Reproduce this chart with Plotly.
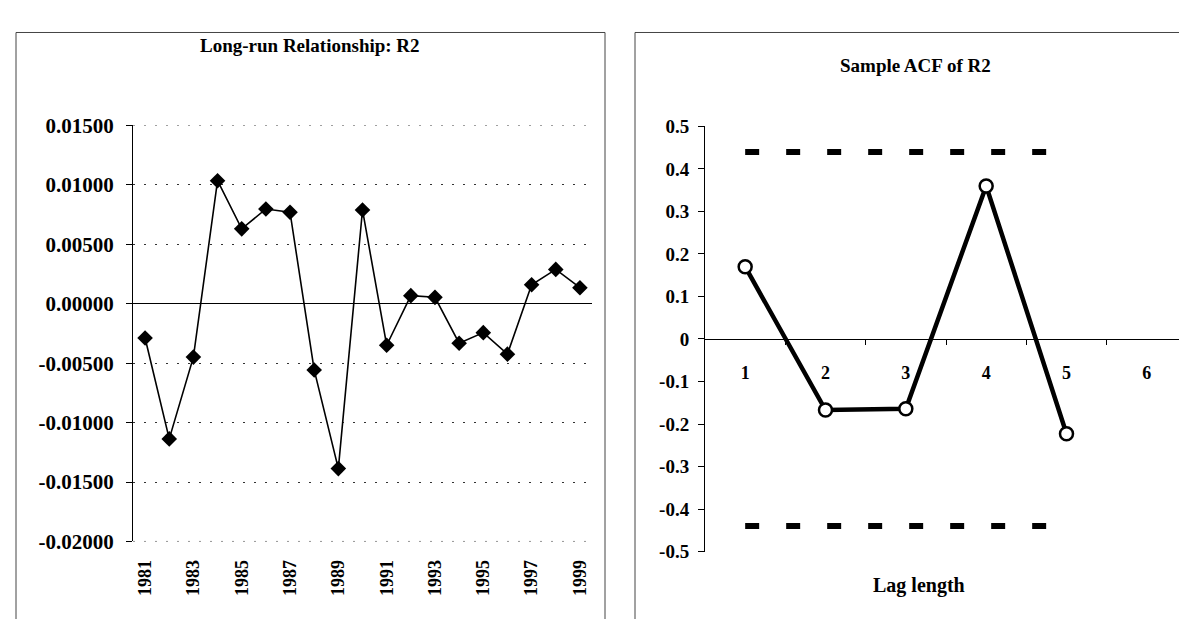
import plotly.graph_objects as go

# ---- data ----
years = list(range(1981, 2000))
r2_values = [-0.00288, -0.01137, -0.00449, 0.01035, 0.00630, 0.00797, 0.00770,
             -0.00557, -0.01387, 0.00789, -0.00349, 0.00068, 0.00054, -0.00332,
             -0.00243, -0.00424, 0.00160, 0.00289, 0.00135]
year_ticks = [1981, 1983, 1985, 1987, 1989, 1991, 1993, 1995, 1997, 1999]
left_yticks = [0.015, 0.01, 0.005, 0.0, -0.005, -0.01, -0.015, -0.02]
left_yticktext = ["0.01500", "0.01000", "0.00500", "0.00000", "-0.00500",
                  "-0.01000", "-0.01500", "-0.02000"]

lags = [1, 2, 3, 4, 5]
acf_values = [0.17, -0.167, -0.164, 0.36, -0.223]
upper_bound = [0.44, 0.44, 0.44, 0.44, 0.44]
lower_bound = [-0.44, -0.44, -0.44, -0.44, -0.44]
lag_ticks = [1, 2, 3, 4, 5, 6]
lag_ticktext = ["1", "2", "3", "4", "5", "6"]
right_yticks = [0.5, 0.4, 0.3, 0.2, 0.1, 0.0, -0.1, -0.2, -0.3, -0.4, -0.5]
right_yticktext = ["0.5", "0.4", "0.3", "0.2", "0.1", "0", "-0.1", "-0.2",
                   "-0.3", "-0.4", "-0.5"]

W, H = 1187, 619
FONT = "Liberation Serif"


def px_x(v):
    return v / W


def px_y(v):
    return 1 - v / H


fig = go.Figure()

fig.add_trace(go.Scatter(
    x=years, y=r2_values, mode="lines+markers",
    line=dict(color="black", width=1.6),
    marker=dict(symbol="diamond", size=12, color="black"),
    xaxis="x", yaxis="y", showlegend=False))

fig.add_trace(go.Scatter(
    x=lags, y=upper_bound, mode="lines",
    line=dict(color="black", width=6, dash="14px,27px"),
    xaxis="x2", yaxis="y2", showlegend=False))
fig.add_trace(go.Scatter(
    x=lags, y=lower_bound, mode="lines",
    line=dict(color="black", width=6, dash="14px,27px"),
    xaxis="x2", yaxis="y2", showlegend=False))
fig.add_trace(go.Scatter(
    x=lags, y=acf_values, mode="lines+markers",
    line=dict(color="black", width=4.5),
    marker=dict(symbol="circle", size=13, color="white",
                line=dict(color="black", width=2.5)),
    xaxis="x2", yaxis="y2", showlegend=False))

ydom1 = [px_y(542.5), px_y(109.7)]
ydom2 = [px_y(553), px_y(110.7)]

grid_style = dict(color="#333", width=1, dash="2px,9px")
edge_grid = [
    dict(type="line", xref="x domain", yref="y", x0=0, x1=1,
         y0=v, y1=v, line=grid_style, layer="below")
    for v in (left_yticks[0], left_yticks[-1])
]

fig.update_layout(
    width=W, height=H, autosize=False,
    margin=dict(l=0, r=0, t=0, b=0),
    paper_bgcolor="white", plot_bgcolor="white",
    font=dict(family=FONT, color="black"),
    xaxis=dict(
        domain=[px_x(125), px_x(584)], range=[1980.5, 1999.5],
        tickmode="array", tickvals=year_ticks, tickangle=-90,
        tickfont=dict(family=FONT, size=18, weight="bold"),
        showgrid=False, zeroline=False, showline=False, ticks="",
        ticklabelstandoff=14, anchor="y"),
    yaxis=dict(
        domain=ydom1, range=[-0.02, 0.015],
        tickmode="array", tickvals=left_yticks, ticktext=left_yticktext,
        tickfont=dict(family=FONT, size=21, weight="bold"),
        ticks="outside", ticklen=6, tickcolor="black",
        ticklabelstandoff=8,
        showline=True, linecolor="black", linewidth=1,
        showgrid=True, gridcolor="#333", gridwidth=1, griddash="2px,9px",
        zeroline=True, zerolinecolor="black", zerolinewidth=1,
        anchor="x"),
    xaxis2=dict(
        domain=[px_x(697), px_x(1179)], range=[0.5, 6.5],
        tickmode="array", tickvals=lag_ticks, ticktext=lag_ticktext,
        tickfont=dict(family=FONT, size=18, weight="bold"),
        ticks="", showgrid=False, zeroline=False,
        showline=True, linecolor="black", linewidth=1,
        minor=dict(tickmode="array", tickvals=[1.5, 2.5, 3.5, 4.5, 5.5],
                   ticks="outside", ticklen=5, tickcolor="black", showgrid=False),
        ticklabelstandoff=17,
        anchor="free", position=(ydom2[0] + ydom2[1]) / 2),
    yaxis2=dict(
        domain=ydom2, range=[-0.5, 0.5],
        tickmode="array", tickvals=right_yticks, ticktext=right_yticktext,
        tickfont=dict(family=FONT, size=19, weight="bold"),
        ticks="outside", ticklen=6, tickcolor="black",
        ticklabelstandoff=5,
        showline=True, linecolor="black", linewidth=1,
        showgrid=False, zeroline=False, anchor="x2"),
    shapes=edge_grid + [
        dict(type="rect", xref="paper", yref="paper",
             x0=px_x(8), x1=px_x(597), y0=-0.02, y1=px_y(13),
             line=dict(color="#444", width=1)),
        dict(type="rect", xref="paper", yref="paper",
             x0=px_x(627), x1=1.02, y0=-0.02, y1=px_y(13),
             line=dict(color="#444", width=1)),
    ],
    annotations=[
        dict(text="<b>Long-run Relationship: R2</b>", xref="paper", yref="paper",
             x=px_x(302), y=px_y(27), xanchor="center", yanchor="middle",
             showarrow=False, font=dict(family=FONT, size=19)),
        dict(text="<b>Sample ACF of R2</b>", xref="paper", yref="paper",
             x=px_x(907), y=px_y(47), xanchor="center", yanchor="middle",
             showarrow=False, font=dict(family=FONT, size=19)),
        dict(text="<b>Lag length</b>", xref="paper", yref="paper",
             x=px_x(911), y=px_y(588), xanchor="center", yanchor="middle",
             showarrow=False, font=dict(family=FONT, size=20)),
    ],
)

fig.write_html("out.html")
